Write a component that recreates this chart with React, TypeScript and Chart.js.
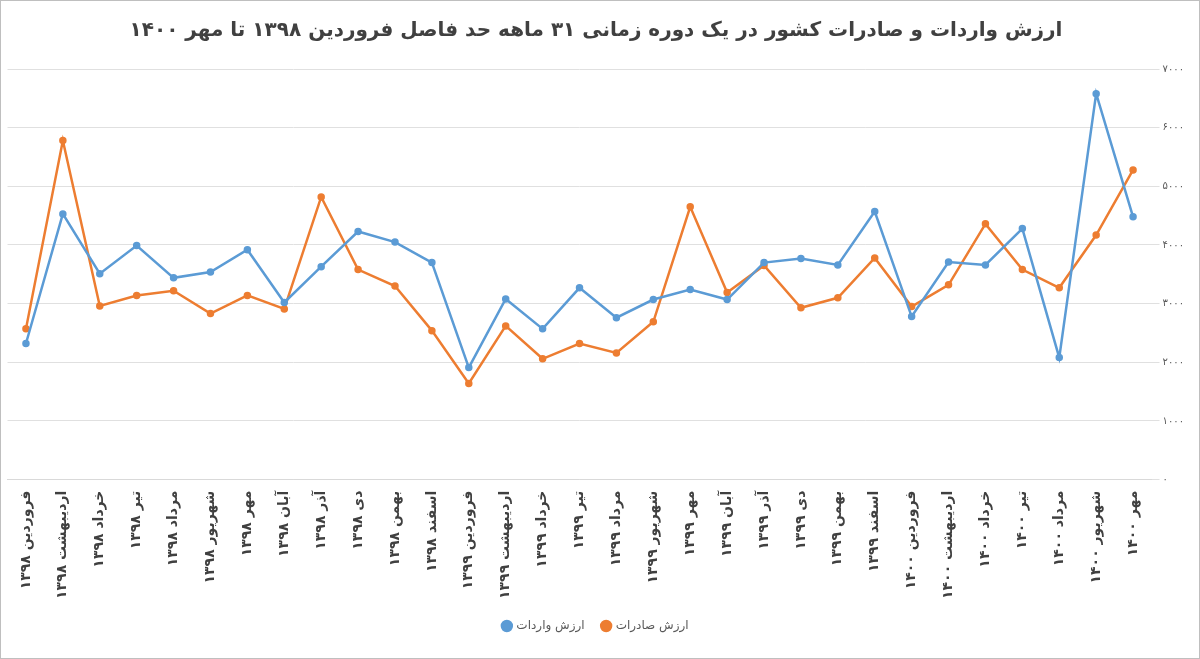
import React, { useEffect, useRef } from "react";
import { Chart, registerables } from "chart.js";
Chart.register(...registerables);

const months = ["فروردین", "اردیبهشت", "خرداد", "تیر", "مرداد", "شهریور", "مهر", "آبان", "آذر", "دی", "بهمن", "اسفند"];
const labels: string[] = [
  ...months.map((m) => m + " ۱۳۹۸"),
  ...months.map((m) => m + " ۱۳۹۹"),
  ...months.slice(0, 7).map((m) => m + " ۱۴۰۰"),
];
const imports = [2320, 4530, 3510, 3990, 3440, 3540, 3920, 3020, 3630, 4230, 4050, 3700, 1910, 3080, 2570, 3270, 2760, 3070, 3240, 3070, 3700, 3770, 3660, 4570, 2780, 3710, 3660, 4280, 2080, 6580, 4480];
const exportsV = [2570, 5780, 2960, 3140, 3220, 2830, 3140, 2910, 4820, 3580, 3300, 2540, 1640, 2620, 2060, 2320, 2160, 2690, 4650, 3190, 3650, 2930, 3100, 3780, 2950, 3320, 4360, 3580, 3270, 4170, 5280];
const title = "ارزش واردات و صادرات کشور در یک دوره زمانی ۳۱ ماهه حد فاصل فروردین ۱۳۹۸ تا مهر ۱۴۰۰";
const fa = (n: number) => String(n).replace(/\d/g, (d) => "۰۱۲۳۴۵۶۷۸۹"[+d]);
const FONT = "'DejaVu Sans', sans-serif";

export default function App() {
  const ref = useRef<HTMLCanvasElement>(null);
  useEffect(() => {
    const c = new Chart(ref.current!, {
      type: "line",
      data: {
        labels,
        datasets: [
          { label: "ارزش واردات", data: imports, borderColor: "#5B9BD5", backgroundColor: "#5B9BD5", borderWidth: 2.5, pointRadius: 2.5, tension: 0 },
          { label: "ارزش صادرات", data: exportsV, borderColor: "#ED7D31", backgroundColor: "#ED7D31", borderWidth: 2.5, pointRadius: 2.5, tension: 0 },
        ],
      },
      options: {
        animation: false,
        responsive: false,
        layout: { padding: { left: 4, right: 12, top: 10, bottom: 16 } },
        plugins: {
          title: { display: true, text: title, color: "#404040", font: { family: FONT, size: 20, weight: "bold" }, padding: { top: 8, bottom: 26 } },
          legend: { position: "bottom", labels: { usePointStyle: true, pointStyle: "circle", boxWidth: 7, boxHeight: 7, color: "#595959", font: { family: FONT, size: 12 }, padding: 18 } },
        },
        scales: {
          x: {
            offset: true,
            grid: { display: false },
            border: { color: "#d9d9d9" },
            ticks: { minRotation: 90, maxRotation: 90, autoSkip: false, color: "#404040", font: { family: FONT, size: 14, weight: "bold" } },
          },
          y: {
            position: "right",
            min: 0, max: 7000,
            grid: { color: "#e0e0e0" },
            border: { display: false },
            ticks: { stepSize: 1000, color: "#595959", font: { family: FONT, size: 10 }, callback: (v: any) => fa(v) },
          },
        },
      },
    });
    return () => c.destroy();
  }, []);
  return (
    <div style={{ position: "absolute", left: 0, top: 0, width: 1200, height: 659, background: "#fff", boxSizing: "border-box", border: "1px solid #bfbfbf" }}>
      <canvas ref={ref} width={1198} height={657} />
    </div>
  );
}
